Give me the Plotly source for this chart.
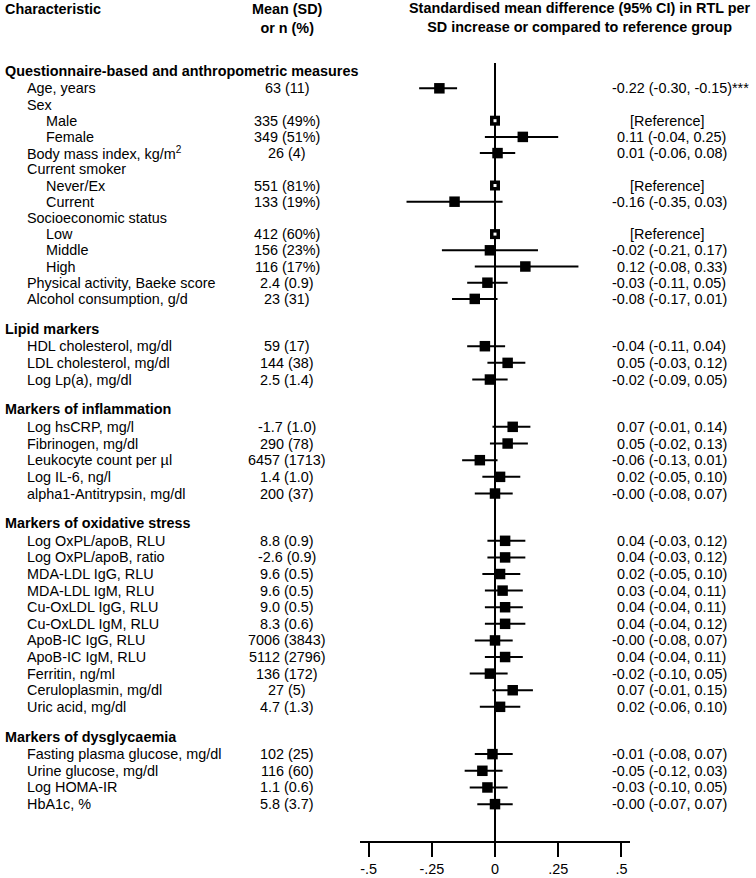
import plotly.graph_objects as go

# ---------------- data ----------------
section_titles = [
    "Questionnaire-based and anthropometric measures",
    "Lipid markers",
    "Markers of inflammation",
    "Markers of oxidative stress",
    "Markers of dysglycaemia",
]

row_labels = [
    "Age, years", "Sex", "Male", "Female", "Body mass index, kg/m<sup>2</sup>",
    "Current smoker", "Never/Ex", "Current", "Socioeconomic status", "Low", "Middle", "High",
    "Physical activity, Baeke score", "Alcohol consumption, g/d",
    "HDL cholesterol, mg/dl", "LDL cholesterol, mg/dl", "Log Lp(a), mg/dl",
    "Log hsCRP, mg/l", "Fibrinogen, mg/dl", "Leukocyte count per µl", "Log IL-6, ng/l",
    "alpha1-Antitrypsin, mg/dl",
    "Log OxPL/apoB, RLU", "Log OxPL/apoB, ratio", "MDA-LDL IgG, RLU", "MDA-LDL IgM, RLU",
    "Cu-OxLDL IgG, RLU", "Cu-OxLDL IgM, RLU", "ApoB-IC IgG, RLU", "ApoB-IC IgM, RLU",
    "Ferritin, ng/ml", "Ceruloplasmin, mg/dl", "Uric acid, mg/dl",
    "Fasting plasma glucose, mg/dl", "Urine glucose, mg/dl", "Log HOMA-IR", "HbA1c, %",
]
row_section = [0] * 14 + [1] * 3 + [2] * 5 + [3] * 11 + [4] * 4
row_kind = [
    "item", "subhead", "sub", "sub", "item", "subhead", "sub", "sub", "subhead", "sub", "sub", "sub",
    "item", "item",
] + ["item"] * 23

mean_sd = [
    "63 (11)", "", "335 (49%)", "349 (51%)", "26 (4)", "", "551 (81%)", "133 (19%)", "",
    "412 (60%)", "156 (23%)", "116 (17%)", "2.4 (0.9)", "23 (31)",
    "59 (17)", "144 (38)", "2.5 (1.4)",
    "-1.7 (1.0)", "290 (78)", "6457 (1713)", "1.4 (1.0)", "200 (37)",
    "8.8 (0.9)", "-2.6 (0.9)", "9.6 (0.5)", "9.6 (0.5)", "9.0 (0.5)", "8.3 (0.6)",
    "7006 (3843)", "5112 (2796)", "136 (172)", "27 (5)", "4.7 (1.3)",
    "102 (25)", "116 (60)", "1.1 (0.6)", "5.8 (3.7)",
]

# None = no estimate (sub-heading); "ref" = reference group
smd = [
    -0.22, None, "ref", 0.11, 0.01, None, "ref", -0.16, None, "ref", -0.02, 0.12, -0.03, -0.08,
    -0.04, 0.05, -0.02,
    0.07, 0.05, -0.06, 0.02, -0.00,
    0.04, 0.04, 0.02, 0.03, 0.04, 0.04, -0.00, 0.04, -0.02, 0.07, 0.02,
    -0.01, -0.05, -0.03, -0.00,
]
ci_low = [
    -0.30, None, None, -0.04, -0.06, None, None, -0.35, None, None, -0.21, -0.08, -0.11, -0.17,
    -0.11, -0.03, -0.09,
    -0.01, -0.02, -0.13, -0.05, -0.08,
    -0.03, -0.03, -0.05, -0.04, -0.04, -0.04, -0.08, -0.04, -0.10, -0.01, -0.06,
    -0.08, -0.12, -0.10, -0.07,
]
ci_high = [
    -0.15, None, None, 0.25, 0.08, None, None, 0.03, None, None, 0.17, 0.33, 0.05, 0.01,
    0.04, 0.12, 0.05,
    0.14, 0.13, 0.01, 0.10, 0.07,
    0.12, 0.12, 0.10, 0.11, 0.11, 0.12, 0.07, 0.11, 0.05, 0.15, 0.10,
    0.07, 0.03, 0.05, 0.07,
]
significance = ["***"] + [""] * 36

tick_vals = [-0.5, -0.25, 0, 0.25, 0.5]
tick_text = ["-.5", "-.25", "0", ".25", ".5"]

# ---------------- layout helpers ----------------
W, H = 756, 878
AXIS_Y = 841
FONT = "Liberation Sans, Arial, Helvetica, sans-serif"
FS = 14.4

section_step = [16.2, 16.67, 16.67, 16.6, 16.67]
SECTION_GAP = 47.3
y = 88.3
ys, header_ys = [], []
prev_sec = None
for i in range(len(row_labels)):
    if prev_sec is not None:
        if row_section[i] != prev_sec:
            y += SECTION_GAP
        else:
            y += section_step[row_section[i]]
    if row_section[i] != prev_sec:
        header_ys.append(y - 17.5)
    ys.append(y)
    prev_sec = row_section[i]


def px(xpix):
    return xpix / W


fig = go.Figure()

# CI lines
cx, cy = [], []
for i in range(len(row_labels)):
    if ci_low[i] is not None:
        cx += [ci_low[i], ci_high[i], None]
        cy += [ys[i], ys[i], None]
fig.add_trace(go.Scatter(x=cx, y=cy, mode="lines", line=dict(color="black", width=2),
                         hoverinfo="skip", showlegend=False))

# estimate markers
ex = [smd[i] for i in range(len(smd)) if isinstance(smd[i], float)]
ey = [ys[i] for i in range(len(smd)) if isinstance(smd[i], float)]
fig.add_trace(go.Scatter(x=ex, y=ey, mode="markers",
                         marker=dict(symbol="square", size=10.5, color="black", line=dict(width=0)),
                         showlegend=False))

# reference markers
rx = [0 for i in range(len(smd)) if smd[i] == "ref"]
ry = [ys[i] for i in range(len(smd)) if smd[i] == "ref"]
fig.add_trace(go.Scatter(x=rx, y=ry, mode="markers",
                         marker=dict(symbol="square", size=10, color="black", line=dict(width=0)),
                         showlegend=False))
fig.add_trace(go.Scatter(x=rx, y=ry, mode="markers",
                         marker=dict(symbol="square", size=3, color="white", line=dict(width=0)),
                         showlegend=False))

# zero line
fig.add_shape(type="line", xref="x", yref="y", x0=0, x1=0, y0=63, y1=AXIS_Y,
              line=dict(color="black", width=2), layer="below")

ann = []


def add_text(text, x, yv, anchor="left", bold=False):
    ann.append(dict(text=f"<b>{text}</b>" if bold else text, x=px(x), y=yv, xref="paper", yref="y",
                    xanchor=anchor, yanchor="middle", showarrow=False,
                    font=dict(family=FONT, size=FS, color="black")))


# column headers
add_text("Characteristic", 3, 9.3, bold=True)
ann.append(dict(text="<b>Mean (SD)</b><br><b>or n (%)</b>", x=px(287), y=18.3, xref="paper", yref="y",
                xanchor="center", yanchor="middle", showarrow=False, align="center",
                font=dict(family=FONT, size=FS, color="black")))
ann.append(dict(text="<b>Standardised mean difference (95% CI) in RTL per</b><br>"
                     "<b>SD increase or compared to reference group</b>",
                x=px(580), y=17.8, xref="paper", yref="y",
                xanchor="center", yanchor="middle", showarrow=False, align="center",
                font=dict(family=FONT, size=FS, color="black")))

for s, hy in enumerate(header_ys):
    add_text(section_titles[s], 3, hy, bold=True)

for i, lab in enumerate(row_labels):
    xl = 44 if row_kind[i] == "sub" else 25
    add_text(lab, xl, ys[i])
    if mean_sd[i]:
        add_text(mean_sd[i], 287, ys[i], anchor="center")
    if smd[i] == "ref":
        add_text("[Reference]", 667, ys[i], anchor="center")
    elif smd[i] is not None:
        s = f"{smd[i]:.2f} ({ci_low[i]:.2f}, {ci_high[i]:.2f}){significance[i]}"
        add_text(s, 610 if s.startswith("-") else 615, ys[i])

fig.update_layout(
    width=W, height=H,
    margin=dict(l=0, r=0, t=0, b=H - AXIS_Y, pad=0),
    paper_bgcolor="white", plot_bgcolor="white",
    annotations=ann,
    xaxis=dict(domain=[px(360), px(630)], range=[-0.534, 0.534], showgrid=False, zeroline=False,
               showline=True, linecolor="black", linewidth=2, ticks="outside", ticklen=14,
               tickwidth=2, tickcolor="black", tickvals=tick_vals, ticktext=tick_text,
               tickfont=dict(family=FONT, size=FS, color="black"), fixedrange=True),
    yaxis=dict(range=[AXIS_Y, 0], visible=False, fixedrange=True),
    showlegend=False,
)

fig.write_html("out.html", config={"displayModeBar": False},
               post_script="document.body.style.margin='0px';document.body.style.overflow='hidden';")
